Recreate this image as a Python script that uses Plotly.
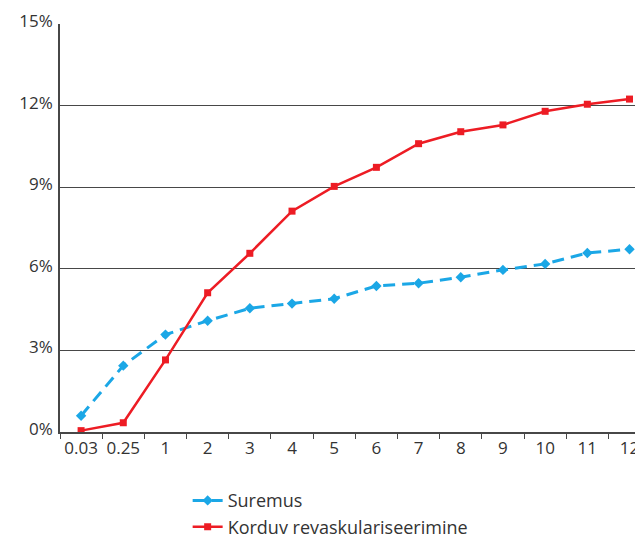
import plotly.graph_objects as go

# Follow-up time points (years) and cumulative event rates (%)
periods = ["0.03", "0.25", "1", "2", "3", "4", "5", "6", "7", "8", "9", "10", "11", "12"]
suremus = [0.60, 2.44, 3.58, 4.09, 4.55, 4.72, 4.90, 5.37, 5.47, 5.69, 5.96, 6.18, 6.58, 6.72]
korduv = [0.05, 0.34, 2.65, 5.12, 6.57, 8.12, 9.03, 9.73, 10.60, 11.04, 11.29, 11.79, 12.05, 12.24]
y_ticks = [0, 3, 6, 9, 12, 15]

BLUE = "#1ba7e6"
RED = "#ed1c24"
GRID = "#474747"
TEXT = "#333333"
FONT = "'Open Sans', Lato, sans-serif"

fig = go.Figure()
fig.add_trace(go.Scatter(
    x=periods, y=suremus, name="Suremus", mode="lines+markers",
    line=dict(color=BLUE, width=3, dash="12px,7px"),
    marker=dict(symbol="diamond", size=8, color=BLUE),
))
fig.add_trace(go.Scatter(
    x=periods, y=korduv, name="Korduv revaskulariseerimine", mode="lines+markers",
    line=dict(color=RED, width=2.5),
    marker=dict(symbol="square", size=7, color=RED),
))

fig.update_layout(
    width=635, height=536,
    margin=dict(l=60, r=0, t=24, b=104, autoexpand=False),
    paper_bgcolor="white", plot_bgcolor="white",
    font=dict(family=FONT, size=17, color=TEXT),
    showlegend=True,
    legend=dict(
        orientation="v", x=0.222, y=-0.123, xanchor="left", yanchor="top",
        font=dict(family=FONT, size=18, color=TEXT),
        itemwidth=30, tracegroupgap=0,
    ),
)
fig.update_xaxes(
    type="category", categoryorder="array", categoryarray=periods,
    range=[-0.5, 13.13], automargin=False, tickangle=0,
    showgrid=False, showline=True, linecolor=GRID, linewidth=1.5,
    ticks="outside", tickson="boundaries", ticklen=5, tickcolor=GRID, tickwidth=1,
    tickfont=dict(family=FONT, size=17, color=TEXT),
)
fig.update_yaxes(
    range=[0, 15], tickvals=y_ticks, ticktext=[f"{v}%" for v in y_ticks],
    automargin=False, ticklabelshift=-3, ticklabelstandoff=2,
    showgrid=True, gridcolor=GRID, gridwidth=1.3, zeroline=False,
    showline=True, linecolor=GRID, linewidth=1.5, ticks="",
    tickfont=dict(family=FONT, size=17, color=TEXT),
)

fig.write_html("out.html")
